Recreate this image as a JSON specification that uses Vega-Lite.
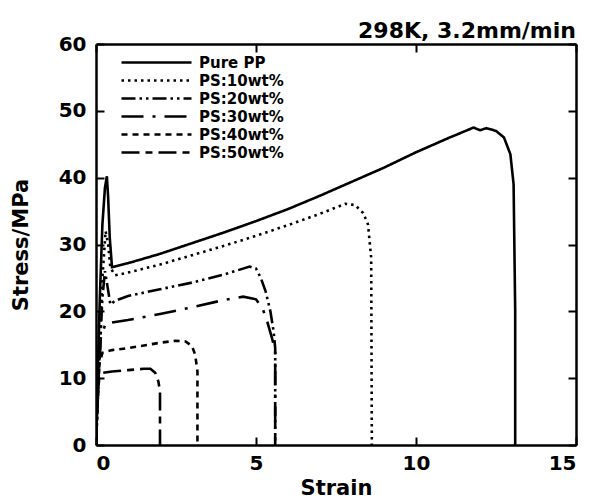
{
  "$schema": "https://vega.github.io/schema/vega-lite/v6.json",
  "width": 480,
  "height": 401,
  "autosize": "none",
  "padding": {"left": 96, "top": 44, "right": 15, "bottom": 57},
  "background": "white",
  "config": {
    "font": "DejaVu Sans",
    "view": {"stroke": null},
    "axis": {
      "domainColor": "black", "domainWidth": 2.5,
      "tickColor": "black", "tickWidth": 2, "tickSize": -8,
      "labelFont": "DejaVu Sans", "labelFontWeight": "bold", "labelFontSize": 20, "labelColor": "black",
      "titleFont": "DejaVu Sans", "titleFontWeight": "bold", "titleFontSize": 21, "titleColor": "black",
      "grid": false
    }
  },
  "title": {"text": "298K, 3.2mm/min", "anchor": "end", "frame": "group", "fontSize": 22, "fontWeight": "bold", "font": "DejaVu Sans", "color": "black", "offset": -9},
  "data": {"values": [
    {"s":"Pure PP","o":1,"x":0,"y":0},{"s":"Pure PP","o":2,"x":0.05,"y":10},{"s":"Pure PP","o":3,"x":0.12,"y":22},{"s":"Pure PP","o":4,"x":0.2,"y":33},{"s":"Pure PP","o":5,"x":0.28,"y":38.5},{"s":"Pure PP","o":6,"x":0.34,"y":40.2},{"s":"Pure PP","o":7,"x":0.38,"y":37},{"s":"Pure PP","o":8,"x":0.43,"y":31},{"s":"Pure PP","o":9,"x":0.5,"y":26.6},{"s":"Pure PP","o":10,"x":1,"y":27.2},{"s":"Pure PP","o":11,"x":2,"y":28.6},{"s":"Pure PP","o":12,"x":3,"y":30.2},{"s":"Pure PP","o":13,"x":4,"y":31.8},{"s":"Pure PP","o":14,"x":5,"y":33.5},{"s":"Pure PP","o":15,"x":6,"y":35.3},{"s":"Pure PP","o":16,"x":7,"y":37.3},{"s":"Pure PP","o":17,"x":8,"y":39.4},{"s":"Pure PP","o":18,"x":9,"y":41.5},{"s":"Pure PP","o":19,"x":10,"y":43.8},{"s":"Pure PP","o":20,"x":11,"y":45.9},{"s":"Pure PP","o":21,"x":11.8,"y":47.5},{"s":"Pure PP","o":22,"x":12,"y":47.1},{"s":"Pure PP","o":23,"x":12.2,"y":47.4},{"s":"Pure PP","o":24,"x":12.5,"y":47},{"s":"Pure PP","o":25,"x":12.75,"y":46},{"s":"Pure PP","o":26,"x":12.95,"y":43.5},{"s":"Pure PP","o":27,"x":13.05,"y":39},{"s":"Pure PP","o":28,"x":13.1,"y":20},{"s":"Pure PP","o":29,"x":13.1,"y":0},
    {"s":"PS:10wt%","o":1,"x":0,"y":0},{"s":"PS:10wt%","o":2,"x":0.1,"y":12},{"s":"PS:10wt%","o":3,"x":0.2,"y":25},{"s":"PS:10wt%","o":4,"x":0.3,"y":32},{"s":"PS:10wt%","o":5,"x":0.38,"y":30},{"s":"PS:10wt%","o":6,"x":0.45,"y":26.5},{"s":"PS:10wt%","o":7,"x":0.6,"y":25.4},{"s":"PS:10wt%","o":8,"x":1,"y":25.8},{"s":"PS:10wt%","o":9,"x":2,"y":27},{"s":"PS:10wt%","o":10,"x":3,"y":28.4},{"s":"PS:10wt%","o":11,"x":4,"y":29.8},{"s":"PS:10wt%","o":12,"x":5,"y":31.3},{"s":"PS:10wt%","o":13,"x":6,"y":32.9},{"s":"PS:10wt%","o":14,"x":7,"y":34.6},{"s":"PS:10wt%","o":15,"x":7.8,"y":36.1},{"s":"PS:10wt%","o":16,"x":8.1,"y":35.9},{"s":"PS:10wt%","o":17,"x":8.35,"y":34.7},{"s":"PS:10wt%","o":18,"x":8.5,"y":33},{"s":"PS:10wt%","o":19,"x":8.6,"y":28},{"s":"PS:10wt%","o":20,"x":8.62,"y":0},
    {"s":"PS:20wt%","o":1,"x":0,"y":0},{"s":"PS:20wt%","o":2,"x":0.1,"y":12},{"s":"PS:20wt%","o":3,"x":0.2,"y":22},{"s":"PS:20wt%","o":4,"x":0.28,"y":26},{"s":"PS:20wt%","o":5,"x":0.35,"y":24},{"s":"PS:20wt%","o":6,"x":0.45,"y":21},{"s":"PS:20wt%","o":7,"x":0.6,"y":21.6},{"s":"PS:20wt%","o":8,"x":1,"y":22.3},{"s":"PS:20wt%","o":9,"x":2,"y":23.3},{"s":"PS:20wt%","o":10,"x":3,"y":24.3},{"s":"PS:20wt%","o":11,"x":4,"y":25.5},{"s":"PS:20wt%","o":12,"x":4.8,"y":26.7},{"s":"PS:20wt%","o":13,"x":5,"y":26.4},{"s":"PS:20wt%","o":14,"x":5.15,"y":25},{"s":"PS:20wt%","o":15,"x":5.3,"y":23},{"s":"PS:20wt%","o":16,"x":5.45,"y":20},{"s":"PS:20wt%","o":17,"x":5.55,"y":17},{"s":"PS:20wt%","o":18,"x":5.6,"y":14.5},{"s":"PS:20wt%","o":19,"x":5.6,"y":0},
    {"s":"PS:30wt%","o":1,"x":0,"y":0},{"s":"PS:30wt%","o":2,"x":0.08,"y":10},{"s":"PS:30wt%","o":3,"x":0.15,"y":16},{"s":"PS:30wt%","o":4,"x":0.3,"y":18.2},{"s":"PS:30wt%","o":5,"x":0.6,"y":18.4},{"s":"PS:30wt%","o":6,"x":1,"y":18.7},{"s":"PS:30wt%","o":7,"x":2,"y":19.6},{"s":"PS:30wt%","o":8,"x":3,"y":20.6},{"s":"PS:30wt%","o":9,"x":4,"y":21.7},{"s":"PS:30wt%","o":10,"x":4.6,"y":22.2},{"s":"PS:30wt%","o":11,"x":5,"y":21.8},{"s":"PS:30wt%","o":12,"x":5.2,"y":20.5},{"s":"PS:30wt%","o":13,"x":5.35,"y":18.5},{"s":"PS:30wt%","o":14,"x":5.5,"y":16},{"s":"PS:30wt%","o":15,"x":5.6,"y":14},{"s":"PS:30wt%","o":16,"x":5.6,"y":0},
    {"s":"PS:40wt%","o":1,"x":0,"y":0},{"s":"PS:40wt%","o":2,"x":0.05,"y":8},{"s":"PS:40wt%","o":3,"x":0.1,"y":12},{"s":"PS:40wt%","o":4,"x":0.2,"y":13.8},{"s":"PS:40wt%","o":5,"x":0.5,"y":14.2},{"s":"PS:40wt%","o":6,"x":1,"y":14.5},{"s":"PS:40wt%","o":7,"x":1.5,"y":14.9},{"s":"PS:40wt%","o":8,"x":2,"y":15.3},{"s":"PS:40wt%","o":9,"x":2.5,"y":15.6},{"s":"PS:40wt%","o":10,"x":2.8,"y":15.5},{"s":"PS:40wt%","o":11,"x":3,"y":14.8},{"s":"PS:40wt%","o":12,"x":3.1,"y":13.5},{"s":"PS:40wt%","o":13,"x":3.17,"y":11},{"s":"PS:40wt%","o":14,"x":3.17,"y":0},
    {"s":"PS:50wt%","o":1,"x":0,"y":0},{"s":"PS:50wt%","o":2,"x":0.05,"y":7},{"s":"PS:50wt%","o":3,"x":0.1,"y":10},{"s":"PS:50wt%","o":4,"x":0.2,"y":10.8},{"s":"PS:50wt%","o":5,"x":0.5,"y":11},{"s":"PS:50wt%","o":6,"x":1,"y":11.2},{"s":"PS:50wt%","o":7,"x":1.5,"y":11.4},{"s":"PS:50wt%","o":8,"x":1.7,"y":11.4},{"s":"PS:50wt%","o":9,"x":1.85,"y":10.8},{"s":"PS:50wt%","o":10,"x":1.95,"y":9.5},{"s":"PS:50wt%","o":11,"x":2,"y":8},{"s":"PS:50wt%","o":12,"x":2,"y":0}
  ]},
  "layer": [
    {
      "mark": {"type": "line", "color": "black", "strokeWidth": 2.6, "clip": true},
      "encoding": {
        "x": {"field": "x", "type": "quantitative", "scale": {"domain": [0, 15], "nice": false}, "axis": {"values": [0, 5, 10, 15], "title": "Strain", "titlePadding": 4, "labelPadding": 16}},
        "y": {"field": "y", "type": "quantitative", "scale": {"domain": [0, 60], "nice": false}, "axis": {"values": [0, 10, 20, 30, 40, 50, 60], "title": "Stress/MPa", "titlePadding": 27, "labelPadding": 18}},
        "detail": {"field": "s"},
        "order": {"field": "o", "type": "quantitative"},
        "strokeDash": {
          "field": "s", "type": "nominal",
          "scale": {
            "domain": ["Pure PP", "PS:10wt%", "PS:20wt%", "PS:30wt%", "PS:40wt%", "PS:50wt%"],
            "range": [[1, 0], [2.5, 4], [14, 4, 2.5, 4, 2.5, 4], [22, 9, 3, 9], [6, 5], [18, 6, 7, 6]]
          },
          "legend": {
            "title": null, "orient": "none", "legendX": 52, "legendY": 10,
            "symbolType": "M-5,0H5", "symbolSize": 196, "symbolStrokeWidth": 2.6, "symbolStrokeColor": "black",
            "labelFont": "DejaVu Sans", "labelFontWeight": "bold", "labelFontSize": 15, "labelColor": "black",
            "rowPadding": 1, "labelOffset": 34
          }
        }
      }
    },
    {
      "mark": {"type": "line", "opacity": 0},
      "encoding": {
        "x": {"field": "x", "type": "quantitative", "scale": {"domain": [0, 15], "nice": false}, "axis": {"orient": "top", "values": [0, 5, 10, 15], "labels": false, "title": null}},
        "y": {"field": "y", "type": "quantitative", "scale": {"domain": [0, 60], "nice": false}, "axis": {"orient": "right", "values": [0, 10, 20, 30, 40, 50, 60], "labels": false, "title": null}},
        "detail": {"field": "s"}
      }
    }
  ],
  "resolve": {"axis": {"x": "independent", "y": "independent"}}
}
